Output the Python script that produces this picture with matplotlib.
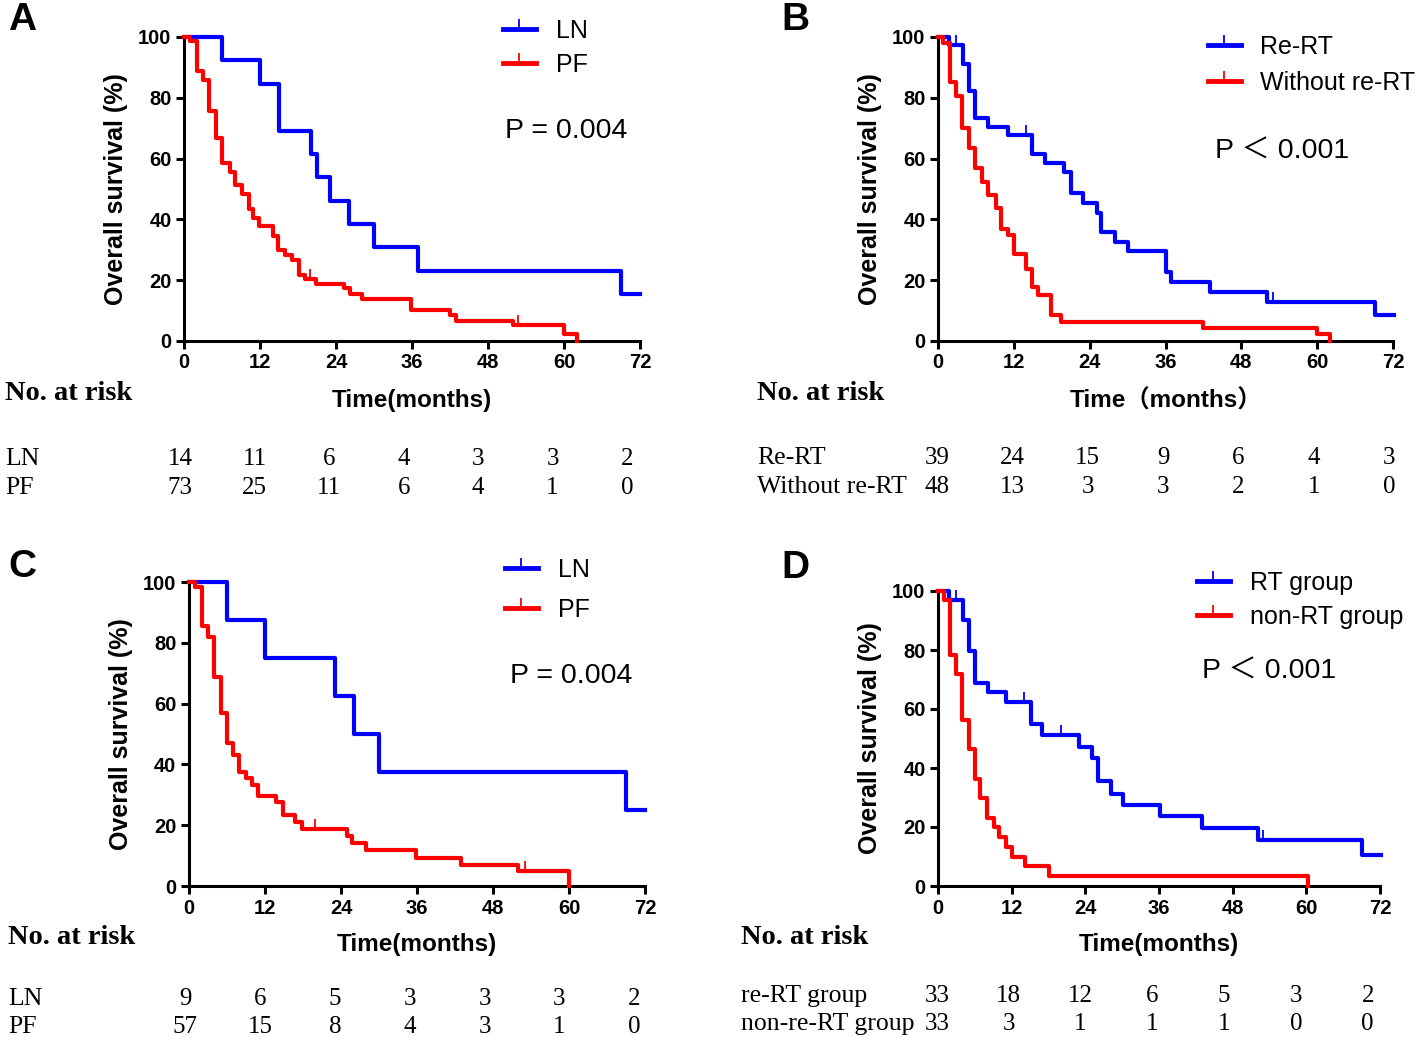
import numpy as np
import matplotlib
matplotlib.use('Agg')
import matplotlib.pyplot as plt
from matplotlib.lines import Line2D
from matplotlib.transforms import blended_transform_factory

# ---- data (months, survival %) ----
a_ln_t = [0, 6, 12, 15, 20, 21, 23, 26, 30, 37, 69, 72]
a_ln_s = [100, 92.3, 84.6, 69.2, 61.5, 53.8, 46.2, 38.5, 30.8, 23.1, 15.4, 15.4]
a_ln_c = []
a_pf_t = [0, 1, 2, 3, 4, 5, 6, 7.2, 8, 9.1, 10.2, 10.9, 11.9, 14, 14.9, 15.9, 17, 18.1,
          19.1, 20.9, 25.2, 26.2, 28.1, 35.9, 42, 43, 52, 60, 62]
a_pf_s = [100, 98.6, 88.7, 85.7, 75.7, 66.7, 58.7, 55.7, 51.3, 48.4, 43.4, 40.3, 37.8, 34.5,
          29.9, 28.2, 26.6, 21.6, 20.5, 18.9, 17.3, 15.4, 13.7, 10.1, 8.5, 6.6, 5.2, 2.4, 0]
a_pf_c = [19.9, 52.8]

b_re_t = [0, 1.7, 4, 4.9, 5.9, 7.9, 11, 14.9, 16.9, 20, 21.1, 22.9, 25.1, 25.8, 28, 30,
          36, 36.9, 43, 52, 69.1, 72.2]
b_re_s = [100, 97.4, 91.2, 82.4, 73.3, 70.5, 67.8, 61.4, 58.5, 55.7, 48.8, 45.5, 42.2, 35.9,
          32.6, 29.6, 22.7, 19.5, 16.2, 12.9, 8.5, 8.5]
b_re_c = [2.9, 14, 53]
b_wo_t = [0, 0.8, 1.85, 2.9, 3.8, 4.9, 5.9, 6.9, 7.9, 9.1, 9.9, 11.1, 12, 14, 14.9, 15.9,
          17.9, 19.5, 41.9, 60, 62]
b_wo_s = [100, 97.9, 85.1, 80.7, 70.2, 63.4, 56.8, 52.2, 48.0, 43.6, 37.0, 34.8, 28.5, 23.8,
          17.6, 15.1, 8.7, 6.3, 4.4, 2.2, 0]
b_wo_c = []

c_ln_t = [0, 6, 12, 23, 26, 30, 69, 72]
c_ln_s = [100, 87.5, 75, 62.5, 50, 37.5, 25, 25]
c_ln_c = []
c_pf_t = [0, 1, 2, 3, 4, 5, 6, 7, 7.9, 9, 10, 10.9, 13.8, 14.9, 16.7, 17.9, 24.9, 25.8,
          27.9, 35.9, 42.9, 52, 60]
c_pf_s = [100, 98.2, 85.4, 81.9, 68.6, 56.8, 47.1, 43.1, 37.4, 35.4, 33.2, 29.6, 27.5, 23.3,
          21.1, 18.9, 16.5, 14.3, 11.8, 9.3, 7.0, 4.8, 0]
c_pf_c = [19.9, 53]

d_rt_t = [0, 1.85, 4.1, 5.1, 6.1, 8.1, 11, 15.2, 17, 23, 25.1, 26, 28.1, 30.1, 36.2, 43,
          52.1, 69.1, 72.2]
d_rt_s = [100, 97.0, 90.1, 79.6, 68.9, 65.8, 62.4, 55.0, 51.1, 47.1, 43.4, 35.5, 31.3, 27.3,
          23.7, 19.7, 15.7, 10.4, 10.4]
d_rt_c = [3.0, 14, 20, 53]
d_non_t = [0, 0.9, 1.9, 2.9, 3.9, 5.0, 6.1, 6.9, 8.0, 9.1, 10.0, 11.0, 12.0, 14.1, 18.0, 60.2]
d_non_s = [100, 97.0, 78.2, 71.8, 56.2, 46.3, 36.2, 29.8, 23.1, 20.0, 16.6, 13.2, 9.8, 6.7,
           3.3, 0]
d_non_c = []

risk_times = [0, 12, 24, 36, 48, 60, 72]
a_risk = {'LN': [14, 11, 6, 4, 3, 3, 2], 'PF': [73, 25, 11, 6, 4, 1, 0]}
b_risk = {'Re-RT': [39, 24, 15, 9, 6, 4, 3], 'Without re-RT': [48, 13, 3, 3, 2, 1, 0]}
c_risk = {'LN': [9, 6, 5, 3, 3, 3, 2], 'PF': [57, 15, 8, 4, 3, 1, 0]}
d_risk = {'re-RT group': [33, 18, 12, 6, 5, 3, 2], 'non-re-RT group': [33, 3, 1, 1, 1, 0, 0]}

W, H = 1418, 1037
SANS = ['Liberation Sans', 'Noto Sans CJK SC', 'DejaVu Sans']
SERIF = ['Liberation Serif', 'DejaVu Serif']
BLUE, RED = '#0000ff', '#ff0000'

fig = plt.figure(figsize=(W / 100, H / 100), dpi=100)


def fx(px):
    return px / W


def fy(py):
    return 1 - py / H


def km(ax, t, s, cens, color):
    t = np.asarray(t, float)
    s = np.asarray(s, float)
    ax.step(t, s, where='post', color=color, lw=3.0, clip_on=False, zorder=3)
    if cens:
        # censored observations: small upward ticks on the curve
        idx = np.searchsorted(t, cens, side='right') - 1
        ax.plot(cens, s[idx], ls='none', marker=2, ms=7, mew=1.3, color=color,
                clip_on=False, zorder=3)


def panel(rect, letter, letter_xy, curves, labels, leg_xy, leg_sp, ptext, p_xy, xlabel,
          risk, risk_xy, row_y, risk_x0, risk_scale):
    l, t, r, b = rect
    ax = fig.add_axes([fx(l), fy(b), fx(r - l), (b - t) / H])
    for (tt, ss, cc), col in zip(curves, [BLUE, RED]):
        km(ax, tt, ss, cc, col)
    ax.set_xlim(0, 72)
    ax.set_ylim(0, 100)
    ax.set_xticks(range(0, 73, 12))
    ax.set_yticks(range(0, 101, 20))
    for sp in ['top', 'right']:
        ax.spines[sp].set_visible(False)
    for sp in ['left', 'bottom']:
        ax.spines[sp].set_linewidth(2.2)
    ax.tick_params(direction='out', length=6, width=2.2, labelsize=14.5, pad=3)
    for lb in ax.get_xticklabels() + ax.get_yticklabels():
        lb.set_fontweight('bold')
        lb.set_family(SANS)
    ax.set_ylabel('Overall survival (%)', fontsize=18, fontweight='bold', family=SANS)
    ax.yaxis.set_label_coords(-56 / (r - l), 0.5)
    ax.set_xlabel(xlabel, fontsize=17.5, fontweight='bold', family=SANS, va='center')
    ax.xaxis.set_label_coords(0.5, -(risk_xy[1] + 7 - b) / (b - t))

    handles = [Line2D([], [], color=c, lw=3.5, marker=2, ms=7, mew=1.3) for c in [BLUE, RED]]
    ax.legend(handles, labels, loc='upper left', bbox_to_anchor=(fx(leg_xy[0]), fy(leg_xy[1])),
              bbox_transform=fig.transFigure, frameon=False, borderaxespad=0, borderpad=0,
              handlelength=1.3, handletextpad=0.8, labelspacing=leg_sp,
              prop={'family': SANS, 'size': 18})

    fig.text(fx(p_xy[0]), fy(p_xy[1]), ptext, fontsize=20.5, family=SANS, va='center')
    fig.text(fx(letter_xy[0]), fy(letter_xy[1]), letter, fontsize=28, fontweight='bold',
             family=SANS, ha='center', va='center')

    # number at risk table
    rx, ry = risk_xy
    fig.text(fx(rx), fy(ry), 'No. at risk', fontsize=20.5, fontweight='bold', family=SERIF,
             va='center')
    tr = blended_transform_factory(ax.transData, fig.transFigure)
    for yrow_px, (name, vals) in zip(row_y, risk.items()):
        yrow = fy(yrow_px)
        fig.text(fx(rx), yrow, name, fontsize=18.5, family=SERIF, va='center')
        for m, v in zip(risk_times, vals):
            ax.text(risk_x0 + m * risk_scale, yrow, str(v), transform=tr, fontsize=18,
                    family=SERIF, ha='center', va='center')
    return ax


panel((184, 37, 640, 341), 'A', (22, 20),
      [(a_ln_t, a_ln_s, a_ln_c), (a_pf_t, a_pf_s, a_pf_c)], ['LN', 'PF'], (503, 19), 0.4,
      'P = 0.004', (505, 131), 'Time(months)', a_risk, (5, 394), (459, 488), -0.6, 0.98)

panel((938, 37, 1393, 341), 'B', (795, 20),
      [(b_re_t, b_re_s, b_re_c), (b_wo_t, b_wo_s, b_wo_c)], ['Re-RT', 'Without re-RT'],
      (1208, 35), 0.46, 'P ＜ 0.001', (1215, 152), 'Time（months）', b_risk, (757, 394),
      (458, 487), -0.2, 0.995)

panel((189, 582, 645, 886), 'C', (22, 567),
      [(c_ln_t, c_ln_s, c_ln_c), (c_pf_t, c_pf_s, c_pf_c)], ['LN', 'PF'], (505, 558), 0.63,
      'P = 0.004', (510, 676), 'Time(months)', c_risk, (8, 938), (999, 1027), -0.6, 0.985)

panel((938, 591, 1380, 886), 'D', (795, 568),
      [(d_rt_t, d_rt_s, d_rt_c), (d_non_t, d_non_s, d_non_c)], ['RT group', 'non-RT group'],
      (1197, 571), 0.4, 'P ＜ 0.001', (1202, 672), 'Time(months)', d_risk, (741, 937),
      (996, 1024), -0.2, 0.975)

fig.savefig('out.png', dpi=100)
